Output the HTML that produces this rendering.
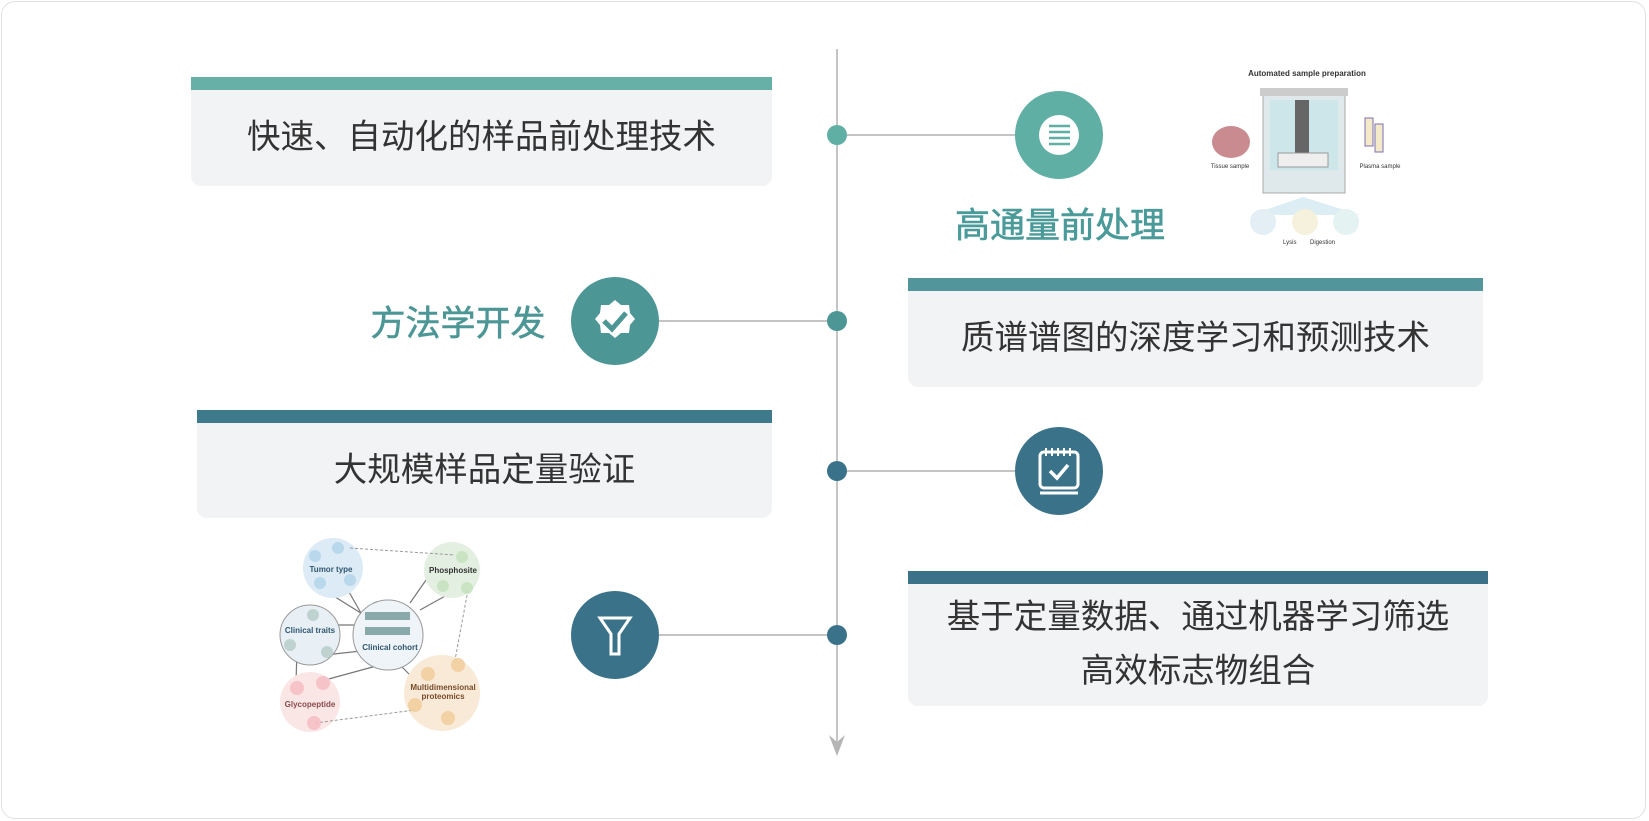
<!DOCTYPE html>
<html><head><meta charset="utf-8"><style>
*{margin:0;padding:0;box-sizing:border-box}
body{width:1649px;height:821px;background:#fff;font-family:"Liberation Sans","Noto Sans CJK SC",sans-serif;position:relative;overflow:hidden}
.card{position:absolute;left:1px;top:1px;width:1645px;height:818px;border:1px solid #e2e2e2;border-radius:14px}
.box{position:absolute;background:#f2f3f5;border-radius:0 0 10px 10px;color:#333;font-size:33.5px;text-align:center;display:flex;align-items:center;justify-content:center;line-height:54px}
.bar{position:absolute;left:0;top:0;width:100%;height:13px}
.t{position:absolute;font-size:35px;font-weight:normal;white-space:nowrap;transform:translate(-50%,-50%);-webkit-text-stroke:0.6px currentColor}
</style></head><body>
<div class="card"></div>
<div class="box" style="left:191px;top:77px;width:581px;height:109px;padding-top:13px"><div class="bar" style="background:#66b0a8"></div>快速、自动化的样品前处理技术</div>
<div class="box" style="left:908px;top:278px;width:575px;height:109px;padding-top:13px"><div class="bar" style="background:#52959a"></div>质谱谱图的深度学习和预测技术</div>
<div class="box" style="left:197px;top:410px;width:575px;height:108px;padding-top:13px"><div class="bar" style="background:#3f7a8c"></div>大规模样品定量验证</div>
<div class="box" style="left:908px;top:571px;width:580px;height:135px;padding-top:13px"><div class="bar" style="background:#3b7189"></div>基于定量数据、通过机器学习筛选<br>高效标志物组合</div>
<div class="t" style="left:1060px;top:223px;color:#4a9a9a">高通量前处理</div>
<div class="t" style="left:458px;top:321px;color:#4d9696">方法学开发</div>
<svg width="1649" height="821" style="position:absolute;left:0;top:0">
<g stroke="#c4c4c4" stroke-width="2">
<line x1="837" y1="49" x2="837" y2="748"/>
<line x1="837" y1="135" x2="1015" y2="135"/>
<line x1="659" y1="321" x2="837" y2="321"/>
<line x1="837" y1="471" x2="1015" y2="471"/>
<line x1="659" y1="635" x2="837" y2="635"/>
</g>
<path d="M829 735 L837 756 L845 735 L837 742Z" fill="#b5b5b5"/>
<circle cx="837" cy="135" r="10" fill="#5fafa5"/>
<circle cx="837" cy="321" r="10" fill="#4d9696"/>
<circle cx="837" cy="471" r="10" fill="#3a7389"/>
<circle cx="837" cy="635" r="10" fill="#3a7389"/>
<circle cx="1059" cy="135" r="44" fill="#5fafa5"/>
<circle cx="1059" cy="135" r="20" fill="#fff"/>
<g stroke="#5fafa5" stroke-width="2.5"><line x1="1049" y1="126" x2="1070" y2="126"/><line x1="1049" y1="132" x2="1070" y2="132"/><line x1="1049" y1="138" x2="1070" y2="138"/><line x1="1049" y1="144" x2="1070" y2="144"/></g>
<circle cx="615" cy="321" r="44" fill="#4d9696"/>
<path d="M615 300 l6 5 8 0 1 8 5 6 -5 6 -1 8 -8 0 -6 5 -6 -5 -8 0 -1 -8 -5 -6 5 -6 1 -8 8 0z" fill="#fff"/>
<path d="M604 321 l8 8 14 -16" stroke="#4d9696" stroke-width="5" fill="none"/>
<circle cx="1059" cy="471" r="44" fill="#3a7389"/>
<rect x="1040" y="452" width="38" height="36" rx="4" fill="none" stroke="#fff" stroke-width="3"/>
<line x1="1040" y1="493" x2="1078" y2="493" stroke="#fff" stroke-width="3"/>
<g stroke="#fff" stroke-width="2"><line x1="1046" y1="448" x2="1046" y2="456"/><line x1="1052" y1="448" x2="1052" y2="456"/><line x1="1058" y1="448" x2="1058" y2="456"/><line x1="1064" y1="448" x2="1064" y2="456"/><line x1="1070" y1="448" x2="1070" y2="456"/></g>
<path d="M1050 471 l7 7 11 -13" stroke="#fff" stroke-width="3.5" fill="none"/>
<circle cx="615" cy="635" r="44" fill="#3a7389"/>
<path d="M600 618 h30 l-11 16 v20 h-8 v-20z" fill="none" stroke="#fff" stroke-width="3"/>
<text x="1307" y="76" font-size="8" font-weight="bold" text-anchor="middle" fill="#333" font-family="Liberation Sans">Automated sample preparation</text>
<rect x="1263" y="93" width="82" height="100" fill="#dfe8ea" stroke="#aaa"/>
<rect x="1260" y="88" width="88" height="8" fill="#ccc"/>
<rect x="1270" y="100" width="68" height="70" fill="#cde6ea"/>
<rect x="1295" y="100" width="14" height="60" fill="#666"/>
<rect x="1278" y="153" width="50" height="14" fill="#eee" stroke="#999"/>
<ellipse cx="1231" cy="142" rx="19" ry="16" fill="#c98a90"/>
<text x="1230" y="168" font-size="6" text-anchor="middle" fill="#333">Tissue sample</text>
<rect x="1365" y="118" width="8" height="28" fill="#f4e9c8" stroke="#7b6fb6"/><rect x="1375" y="124" width="8" height="28" fill="#f4e9c8" stroke="#7b6fb6"/>
<text x="1380" y="168" font-size="6" text-anchor="middle" fill="#333">Plasma sample</text>
<path d="M1303 197 L1250 215 L1360 215Z" fill="#dceef3"/>
<circle cx="1263" cy="222" r="13" fill="#e3eef5"/><circle cx="1305" cy="222" r="13" fill="#f6f1dc"/><circle cx="1346" cy="222" r="13" fill="#e5f2f2"/>
<text x="1283" y="244" font-size="6" fill="#333">Lysis</text><text x="1310" y="244" font-size="6" fill="#333">Digestion</text>
<g stroke="#777" stroke-width="1.2" fill="none">
<line x1="316" y1="585" x2="388" y2="630"/><line x1="345" y1="585" x2="365" y2="620"/><line x1="330" y1="625" x2="358" y2="625"/>
<line x1="410" y1="603" x2="440" y2="560"/><line x1="420" y1="610" x2="465" y2="585"/><line x1="325" y1="655" x2="370" y2="650"/>
<line x1="325" y1="680" x2="380" y2="665"/><line x1="400" y1="665" x2="425" y2="690"/><line x1="297" y1="650" x2="296" y2="682"/>
</g>
<circle cx="333" cy="568" r="30" fill="#dcebf5"/><circle cx="452" cy="570" r="28" fill="#e3f0e1"/>
<circle cx="310" cy="635" r="30" fill="#e8f0f5" stroke="#999"/><circle cx="388" cy="635" r="35" fill="#eef4f8" stroke="#999"/>
<circle cx="310" cy="702" r="30" fill="#fbe6e6"/><circle cx="442" cy="693" r="38" fill="#f8ead6"/>
<g stroke="#999" stroke-dasharray="3 2" fill="none"><line x1="350" y1="548" x2="455" y2="555"/><line x1="468" y1="590" x2="455" y2="660"/><line x1="315" y1="723" x2="415" y2="710"/></g>
<g fill-opacity="0.9">
<circle cx="315" cy="556" r="6" fill="#b6d6ea"/><circle cx="338" cy="548" r="6" fill="#b6d6ea"/><circle cx="320" cy="583" r="6" fill="#b6d6ea"/><circle cx="350" cy="580" r="6" fill="#b6d6ea"/>
<circle cx="462" cy="557" r="6" fill="#c6e2c0"/><circle cx="443" cy="586" r="6" fill="#c6e2c0"/><circle cx="467" cy="588" r="6" fill="#c6e2c0"/>
<circle cx="313" cy="615" r="6" fill="#b9cfcc"/><circle cx="290" cy="645" r="6" fill="#b9cfcc"/><circle cx="327" cy="652" r="6" fill="#b9cfcc"/>
<circle cx="297" cy="688" r="7" fill="#f4bfc4"/><circle cx="323" cy="683" r="7" fill="#f4bfc4"/><circle cx="314" cy="723" r="7" fill="#f4bfc4"/>
<circle cx="428" cy="674" r="7" fill="#f1cf9f"/><circle cx="458" cy="665" r="7" fill="#f1cf9f"/><circle cx="415" cy="705" r="7" fill="#f1cf9f"/><circle cx="448" cy="718" r="7" fill="#f1cf9f"/>
</g>
<g fill="#8aa"><rect x="365" y="612" width="45" height="8"/><rect x="365" y="627" width="45" height="8"/></g>
<g font-size="8" font-weight="bold" text-anchor="middle" font-family="Liberation Sans">
<text x="331" y="572" fill="#2f5670">Tumor type</text><text x="453" y="573" fill="#333">Phosphosite</text>
<text x="310" y="633" fill="#2f5670">Clinical traits</text><text x="390" y="650" fill="#2f5670">Clinical cohort</text>
<text x="310" y="707" fill="#8a4b4b">Glycopeptide</text><text x="443" y="690" fill="#7a4b2a">Multidimensional</text><text x="443" y="699" fill="#7a4b2a">proteomics</text>
</g>
</svg>
</body></html>
